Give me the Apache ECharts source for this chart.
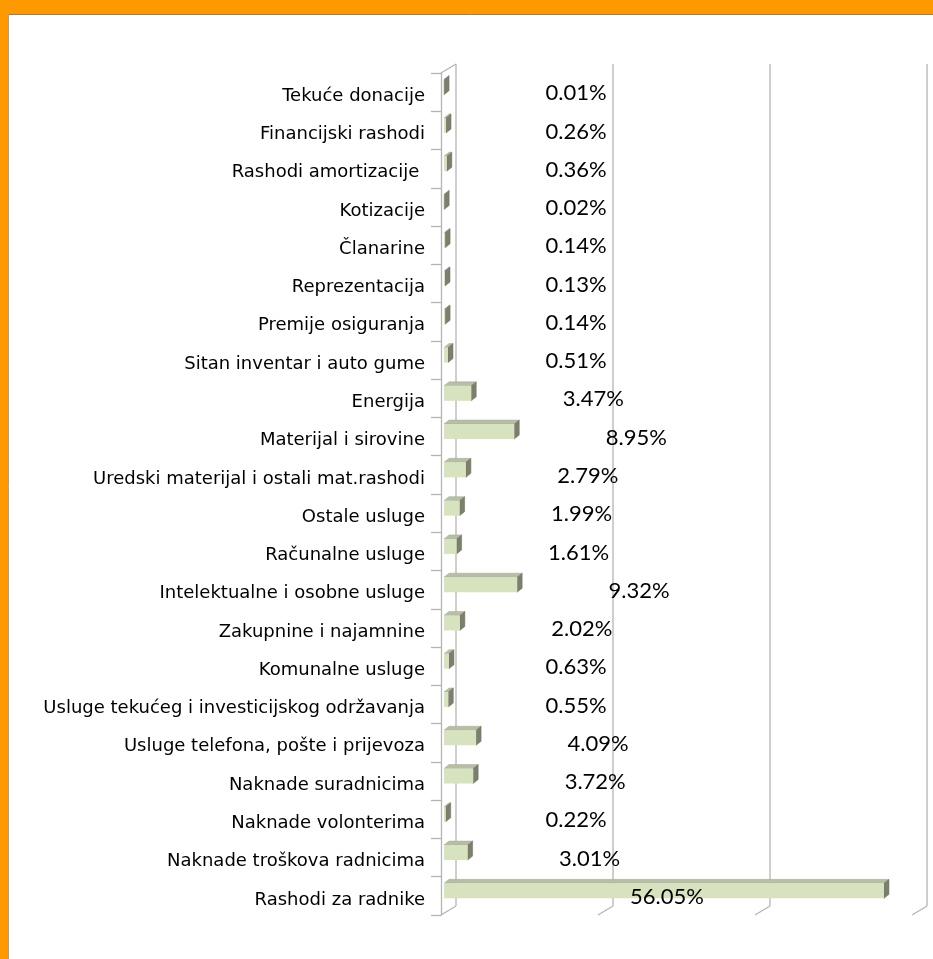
<!DOCTYPE html>
<html>
<head>
    <meta charset="utf-8">
    <title>Rashodi</title>
    <script src="https://cdn.jsdelivr.net/npm/echarts@6/dist/echarts.min.js"></script>
    <style>
        html, body { margin: 0; padding: 0; background: #fff; }
        #main { width: 933px; height: 959px; }
    </style>
</head>
<body>
    <div id="main"></div>
    <script type="text/javascript">
        // categories, top to bottom
        var categories = [
            'Tekuće donacije',
            'Financijski rashodi',
            'Rashodi amortizacije ',
            'Kotizacije',
            'Članarine',
            'Reprezentacija',
            'Premije osiguranja',
            'Sitan inventar i auto gume',
            'Energija',
            'Materijal i sirovine',
            'Uredski materijal i ostali mat.rashodi',
            'Ostale usluge',
            'Računalne usluge',
            'Intelektualne i osobne usluge',
            'Zakupnine i najamnine',
            'Komunalne usluge',
            'Usluge tekućeg i investicijskog održavanja',
            'Usluge telefona, pošte i prijevoza',
            'Naknade suradnicima',
            'Naknade volonterima',
            'Naknade troškova radnicima',
            'Rashodi za radnike'
        ];
        var shares = [0.01, 0.26, 0.36, 0.02, 0.14, 0.13, 0.14, 0.51, 3.47, 8.95, 2.79, 1.99,
            1.61, 9.32, 2.02, 0.63, 0.55, 4.09, 3.72, 0.22, 3.01, 56.05];
        var xTicks = [0, 20, 40, 60];

        var DX = 15, DY = -9;        // depth of the back wall
        var BDX = 5, BDY = -4;       // depth of a bar
        var lineColor = '#b4b4b4';

        var myChart = echarts.init(document.getElementById('main'));

        function renderWall(params, api) {
            var cs = params.coordSys;
            var t = api.value(0);
            var x = api.coord([t, 0])[0];
            var bottom = cs.y + cs.height;
            var top = cs.y;
            var children = [
                { type: 'line', shape: { x1: x, y1: bottom, x2: x + DX, y2: bottom + DY } },
                { type: 'line', shape: { x1: x + DX, y1: bottom + DY, x2: x + DX, y2: top + DY } }
            ];
            if (t === 0) {
                children.push({ type: 'line', shape: { x1: x, y1: top, x2: x + DX, y2: top + DY } });
            }
            children.forEach(function (c) {
                c.style = { stroke: lineColor, lineWidth: 1.3 };
            });
            return { type: 'group', children: children };
        }

        function renderBar(params, api) {
            var v = api.value(0);
            var idx = api.value(1);
            var start = api.coord([0, idx]);
            var end = api.coord([v, idx]);
            var h = 15;
            var x0 = start[0] + 3;
            var x1 = end[0] + 3;
            var yTop = start[1] - 5 - h / 2;
            var yBot = yTop + h;
            var labelX = Math.min(Math.max(start[0] + 135, end[0] + 125), start[0] + 226);
            return {
                type: 'group',
                children: [
                    {
                        type: 'polygon',
                        shape: { points: [[x0, yTop], [x1, yTop], [x1 + BDX, yTop + BDY], [x0 + BDX, yTop + BDY]] },
                        style: { fill: '#b6bea3', stroke: '#a3ab90', lineWidth: 0.5 }
                    },
                    {
                        type: 'polygon',
                        shape: { points: [[x1, yTop], [x1 + BDX, yTop + BDY], [x1 + BDX, yBot + BDY], [x1, yBot]] },
                        style: { fill: '#7b7f6c', stroke: '#6f7361', lineWidth: 0.5 }
                    },
                    {
                        type: 'rect',
                        shape: { x: x0, y: yTop, width: Math.max(x1 - x0, 0.01), height: h },
                        style: { fill: '#d7e3bf' }
                    },
                    {
                        type: 'text',
                        z2: 10,
                        style: {
                            text: v.toFixed(2) + '%',
                            x: labelX,
                            y: start[1] + 1,
                            align: 'center',
                            verticalAlign: 'middle',
                            fill: '#000',
                            font: '22px Lato'
                        }
                    }
                ]
            };
        }

        var option = {
            backgroundColor: '#fff',
            animation: false,
            graphic: [
                { type: 'rect', shape: { x: 0, y: 0, width: 933, height: 14 }, style: { fill: '#ff9900' } },
                { type: 'rect', shape: { x: 0, y: 0, width: 8, height: 959 }, style: { fill: '#ff9900' } },
                { type: 'line', shape: { x1: 8, y1: 14.5, x2: 933, y2: 14.5 }, style: { stroke: '#808080', lineWidth: 1 } },
                { type: 'line', shape: { x1: 8.5, y1: 14, x2: 8.5, y2: 959 }, style: { stroke: '#a0a0a0', lineWidth: 1 } }
            ],
            grid: {
                left: 441,
                right: 21,
                top: 73,
                bottom: 44
            },
            xAxis: {
                type: 'value',
                min: 0,
                max: 60,
                interval: 20,
                axisLabel: { show: false },
                axisLine: { show: false },
                axisTick: { show: false },
                splitLine: { show: false }
            },
            yAxis: {
                type: 'category',
                inverse: true,
                data: categories,
                axisLine: { show: true, lineStyle: { color: lineColor, width: 1.3 } },
                axisTick: { show: true, length: 10, lineStyle: { color: lineColor, width: 1.3 } },
                axisLabel: {
                    margin: 16,
                    formatter: function (name) {
                        return '{c|' + name + '}';
                    },
                    rich: {
                        c: {
                            color: '#000',
                            fontFamily: 'DejaVu Sans',
                            fontSize: 18,
                            padding: [8, 0, 0, 0]
                        }
                    }
                }
            },
            series: [{
                type: 'custom',
                renderItem: renderWall,
                data: xTicks.map(function (t) { return [t]; }),
                silent: true,
                z: 1
            }, {
                type: 'custom',
                renderItem: renderBar,
                data: shares.map(function (v, i) { return [v, i]; }),
                encode: { x: 0, y: 1 },
                z: 3
            }]
        };

        myChart.setOption(option);
    </script>
</body>
</html>
